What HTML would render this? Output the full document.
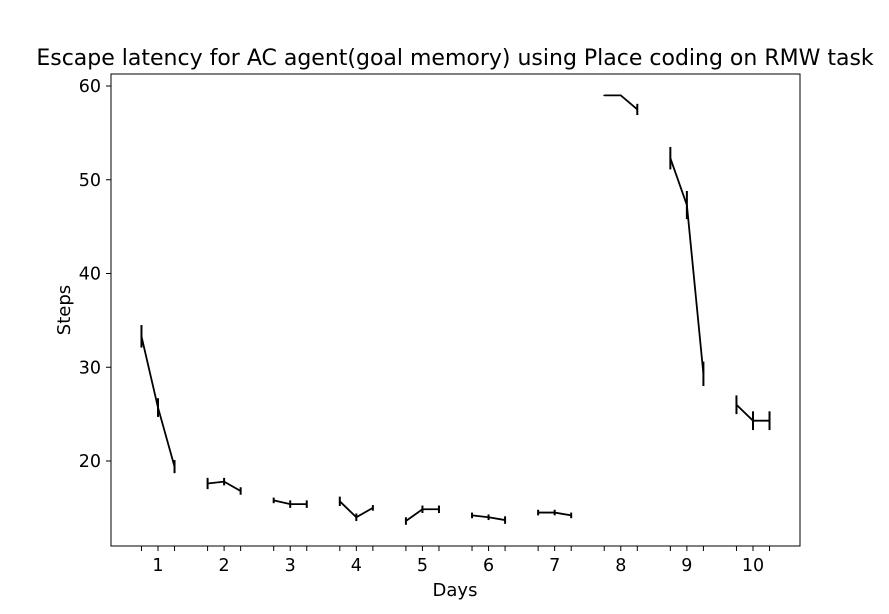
<!DOCTYPE html>
<html><head><meta charset="utf-8">
<style>
html,body{margin:0;padding:0;background:#fff;}
svg{display:block;font-family:"DejaVu Sans","Liberation Sans",sans-serif;}
</style></head>
<body>
<svg id="chart" width="889" height="614">
<rect width="889" height="614" fill="#fff"/>
<text x="455" y="65" font-size="22" text-anchor="middle">Escape latency for AC agent(goal memory) using Place coding on RMW task</text>
<g id="marks"></g>
<g id="axes"></g>
<rect x="111" y="74" width="689" height="472" fill="none" stroke="#000" stroke-width="1"/>
<text x="455" y="596" font-size="18" text-anchor="middle">Days</text>
<text transform="translate(70,310) rotate(-90)" font-size="18" text-anchor="middle">Steps</text>
</svg>
<script>
const days = [1,2,3,4,5,6,7,8,9,10];
const offsets = [-0.25, 0, 0.25];
const means = [
  [33.3,25.7,19.4],[17.6,17.8,16.8],[15.8,15.4,15.4],[15.7,14.0,15.0],[13.6,14.85,14.85],
  [14.2,14.0,13.7],[14.5,14.5,14.2],[59.0,59.0,57.5],[52.3,47.3,29.3],[26.0,24.3,24.3]
];
const errs = [
  [1.2,1.0,0.7],[0.6,0.4,0.4],[0.3,0.4,0.4],[0.5,0.4,0.3],[0.4,0.4,0.4],
  [0.3,0.3,0.4],[0.3,0.3,0.3],[0.05,0.05,0.6],[1.2,1.5,1.3],[1.0,1.0,1.0]
];
const yTicks = [20,30,40,50,60];

const NS = "http://www.w3.org/2000/svg";
function xs(d){ return 158 + (d-1)*66.11; }
function ys(v){ return 461 - (v-20)*9.375; }
function mk(tag, attrs, parent){
  const e = document.createElementNS(NS, tag);
  for (const k in attrs) e.setAttribute(k, attrs[k]);
  parent.appendChild(e); return e;
}
const marks = document.getElementById('marks');
const axes = document.getElementById('axes');

days.forEach((d, i) => {
  const pts = offsets.map((o, j) => [xs(d+o), ys(means[i][j])]);
  const pl = mk('polyline', {points: pts.map(p => p.join(',')).join(' '), fill:'none', stroke:'#000', 'stroke-width':1.8}, marks);
  
  
  offsets.forEach((o, j) => {
    const x = xs(d+o);
    const ln = mk('line', {x1:x, x2:x, y1:ys(means[i][j]+errs[i][j]), y2:ys(means[i][j]-errs[i][j]), stroke:'#000', 'stroke-width':2}, marks);
    
    
  });
});

yTicks.forEach(t => {
  const y = ys(t);
  const tk = mk('line', {x1:106, x2:111, y1:y, y2:y, stroke:'#000', 'stroke-width':1}, axes);
  
  
  const tx = mk('text', {x:101, y:y+6, 'font-size':17.5, 'text-anchor':'end'}, axes);
  tx.textContent = t;
  
  
});
days.forEach(d => {
  offsets.forEach(o => {
    const x = xs(d+o);
    const tk = mk('line', {x1:x, x2:x, y1:546, y2:551, stroke:'#000', 'stroke-width':1}, axes);
    
    
  });
  const tx = mk('text', {x:xs(d), y:571, 'font-size':17.5, 'text-anchor':'middle'}, axes);
  tx.textContent = d;
  
  
});
</script>
</body></html>
